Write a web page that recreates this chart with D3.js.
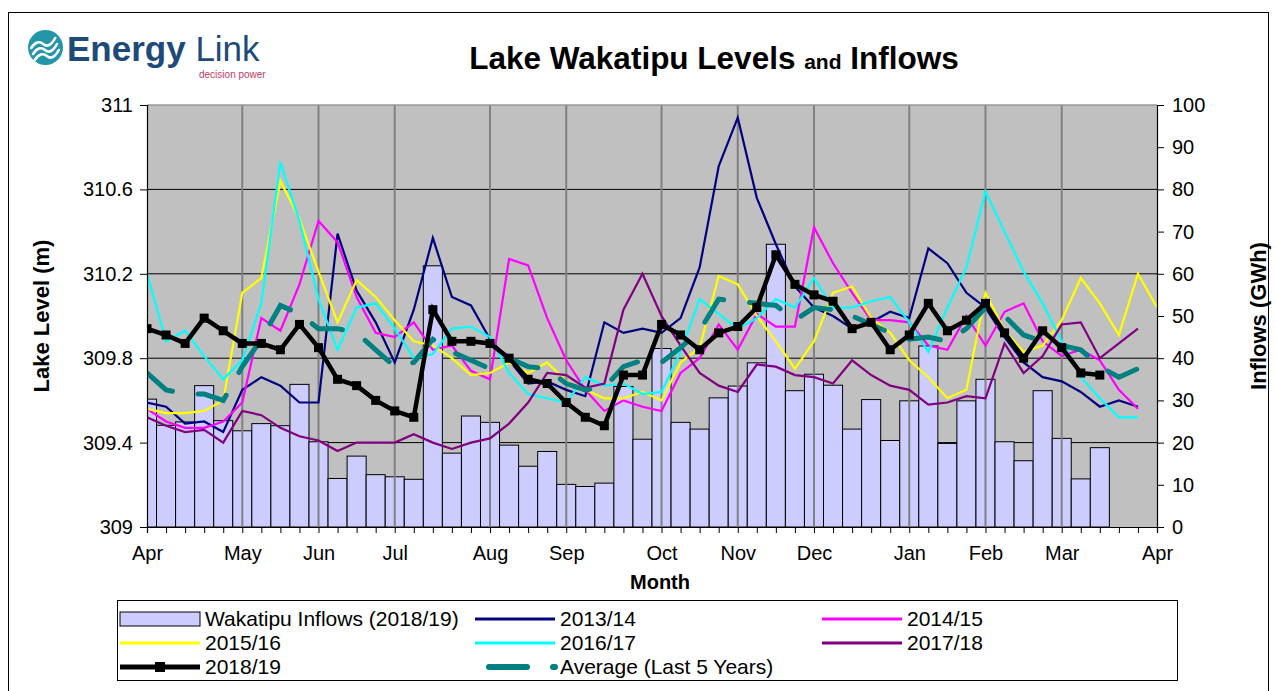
<!DOCTYPE html>
<html><head><meta charset="utf-8">
<script src="https://cdn.jsdelivr.net/npm/d3@7"></script>
<style>body{margin:0;background:#fff;} text{font-family:"Liberation Sans",Arial,sans-serif;}</style>
</head><body><svg id="c" width="1276" height="691"></svg>
<script>
// ---------- DATA ----------
const monthLabels = ["Apr","May","Jun","Jul","Aug","Sep","Oct","Nov","Dec","Jan","Feb","Mar","Apr"];
const monthWeeks  = [0,5,9,13,18,22,27,31,35,40,44,48,53];
const levelTicks  = [309,309.4,309.8,310.2,310.6,311];
const inflowTicks = [0,10,20,30,40,50,60,70,80,90,100];

const inflows = [30.3,24.1,24.9,33.5,25.2,22.8,24.5,24.0,33.8,20.2,11.5,16.8,12.4,11.9,11.3,61.9,17.5,26.3,24.8,19.4,14.4,17.9,10.1,9.6,10.4,33.3,20.8,42.3,24.8,23.2,30.6,33.4,38.9,67.0,32.3,36.2,33.6,23.2,30.2,20.5,29.9,42.9,19.8,29.9,35.0,20.2,15.7,32.3,21.0,11.4,18.8];
const s1314 = [309.59,309.57,309.49,309.50,309.45,309.65,309.71,309.67,309.59,309.59,310.39,310.12,309.97,309.78,310.03,310.37,310.09,310.05,309.89,309.79,309.68,309.69,309.65,309.62,309.97,309.92,309.94,309.92,309.99,310.23,310.71,310.94,310.56,310.34,310.14,310.04,310.00,309.94,309.97,310.02,309.99,310.32,310.25,310.11,310.04,309.90,309.78,309.71,309.69,309.64,309.57,309.60,309.57];
const s1415 = [309.56,309.50,309.47,309.47,309.50,309.59,309.99,309.93,310.15,310.45,310.35,310.09,309.92,309.90,309.97,309.84,309.86,309.74,309.70,310.27,310.24,309.99,309.79,309.65,309.55,309.60,309.57,309.55,309.73,309.80,309.96,309.84,310.01,309.95,309.95,310.42,310.25,310.11,309.98,309.98,309.97,309.86,309.84,310.00,309.86,310.02,310.06,309.88,309.81,309.84,309.79,309.65,309.56];
const s1516 = [309.56,309.54,309.54,309.55,309.60,310.11,310.18,310.64,310.46,310.21,309.97,310.17,310.09,309.98,309.88,309.86,309.80,309.72,309.73,309.78,309.73,309.78,309.69,309.65,309.61,309.61,309.64,309.60,309.78,309.85,310.19,310.15,310.00,309.88,309.75,309.88,310.11,310.14,309.99,309.92,309.79,309.71,309.61,309.65,310.11,309.93,309.83,309.86,309.98,310.18,310.06,309.91,310.20,310.04];
const s1617 = [310.20,309.88,309.93,309.81,309.70,309.79,310.06,310.73,310.45,310.08,309.84,310.04,310.06,309.94,309.80,309.82,309.94,309.95,309.90,309.73,309.63,309.61,309.59,309.71,309.67,309.68,309.63,309.64,309.83,310.08,310.01,309.94,309.99,310.08,310.04,310.18,310.04,310.04,310.07,310.09,309.97,309.83,310.04,310.23,310.59,310.40,310.21,310.06,309.88,309.71,309.61,309.52,309.52];
const s1718 = [309.52,309.48,309.45,309.46,309.40,309.55,309.53,309.47,309.43,309.41,309.36,309.40,309.40,309.40,309.44,309.40,309.37,309.40,309.42,309.49,309.59,309.73,309.72,309.66,309.68,310.03,310.20,310.00,309.86,309.73,309.67,309.64,309.77,309.76,309.72,309.71,309.68,309.79,309.72,309.67,309.65,309.58,309.59,309.62,309.61,309.87,309.73,309.81,309.96,309.97,309.80,309.87,309.94];
const s1819 = [309.94,309.91,309.87,309.99,309.93,309.87,309.87,309.84,309.96,309.85,309.70,309.67,309.60,309.55,309.52,310.03,309.88,309.88,309.87,309.80,309.70,309.68,309.59,309.52,309.48,309.72,309.72,309.96,309.91,309.84,309.92,309.95,310.04,310.29,310.15,310.10,310.07,309.94,309.97,309.84,309.91,310.06,309.93,309.98,310.06,309.92,309.80,309.93,309.85,309.73,309.72];
const avg5 = [309.73,309.65,309.63,309.63,309.60,309.76,309.89,310.05,310.01,309.94,309.94,309.92,309.84,309.76,309.78,309.89,309.83,309.79,309.75,309.80,309.76,309.75,309.68,309.65,309.66,309.76,309.79,309.78,309.85,309.93,310.08,310.07,310.06,310.05,309.98,310.04,310.03,310.00,309.96,309.92,309.89,309.90,309.88,309.94,310.04,310.00,309.91,309.88,309.86,309.84,309.76,309.71,309.75];

const seriesNames = ["2013/14","2014/15","2015/16","2016/17","2017/18"];
const seriesColors = ["#000080","#ff00ff","#ffff00","#00ffff","#800080"];
const seriesData = [s1314,s1415,s1516,s1617,s1718];

// ---------- LAYOUT ----------
const svg = d3.select("#c");
const L = 147, R = 1157, T = 105, B = 527;
const x = d3.scaleLinear().domain([0,53]).range([L,R]);
const yL = d3.scaleLinear().domain([309,311]).range([B,T]);
const yR = d3.scaleLinear().domain([0,100]).range([B,T]);

// outer border
svg.append("rect").attr("x",8.5).attr("y",12.5).attr("width",1260).attr("height",700)
  .attr("fill","none").attr("stroke","#000").attr("stroke-width",1);

// logo
const logo = svg.append("g");
logo.append("circle").attr("cx",45.5).attr("cy",47.5).attr("r",17.5).attr("fill","#2596a8");
[-6,0,6].forEach(o=>{
  logo.append("path").attr("d",`M${33+o*0.3},${54+o} q6,-9 12,-4 t12,-6`)
    .attr("fill","none").attr("stroke","#fff").attr("stroke-width",2.6).attr("stroke-linecap","round");
});
logo.append("text").attr("x",67).attr("y",61).attr("fill","#1d4a78").attr("font-size",35)
  .html('<tspan font-weight="bold">Energy</tspan> Link');
logo.append("text").attr("x",199).attr("y",77.5).attr("fill","#c23b63").attr("font-size",10).text("decision power");

// title
svg.append("text").attr("x",714).attr("y",69).attr("text-anchor","middle").attr("font-weight","bold")
  .attr("font-size",31.5)
  .html('Lake Wakatipu Levels <tspan font-size="21">and</tspan> Inflows');

// plot background
svg.append("rect").attr("x",L).attr("y",T).attr("width",R-L).attr("height",B-T).attr("fill","#c0c0c0");

// horizontal gridlines
svg.append("g").selectAll("line").data(levelTicks.slice(1,-1)).join("line")
  .attr("x1",L).attr("x2",R).attr("y1",d=>yL(d)).attr("y2",d=>yL(d))
  .attr("stroke","#000").attr("stroke-width",1);

// clip
svg.append("defs").append("clipPath").attr("id","pc").append("rect")
  .attr("x",L).attr("y",T-5).attr("width",R-L).attr("height",B-T+5);

// bars
const bw = x(1)-x(0);
svg.append("g").attr("clip-path","url(#pc)").selectAll("rect").data(inflows).join("rect")
  .attr("x",(d,i)=>x(i)-bw/2).attr("width",bw)
  .attr("y",d=>yR(d)).attr("height",d=>yR(0)-yR(d))
  .attr("fill","#ccccff").attr("stroke","#000").attr("stroke-width",1);

// vertical month gridlines
svg.append("g").selectAll("line").data(monthWeeks.slice(1,-1)).join("line")
  .attr("x1",d=>x(d)).attr("x2",d=>x(d)).attr("y1",T).attr("y2",B)
  .attr("stroke","#808080").attr("stroke-width",2);

// plot frame top
svg.append("line").attr("x1",L).attr("x2",R).attr("y1",T).attr("y2",T).attr("stroke","#999").attr("stroke-width",1.5);

const line = d3.line().x((d,i)=>x(i)).y(d=>yL(d));
const gl = svg.append("g").attr("clip-path","url(#pc)");
seriesData.forEach((s,k)=>{
  gl.append("path").attr("d",line(s)).attr("fill","none")
    .attr("stroke",seriesColors[k]).attr("stroke-width",2.2).attr("stroke-linejoin","miter");
});
// average
gl.append("path").attr("d",line(avg5)).attr("fill","none").attr("stroke","#008080")
  .attr("stroke-width",5).attr("stroke-dasharray","32,26").attr("stroke-linecap","round");
// 2018/19
gl.append("path").attr("d",line(s1819)).attr("fill","none").attr("stroke","#000").attr("stroke-width",4.5);
gl.append("g").selectAll("rect").data(s1819).join("rect")
  .attr("x",(d,i)=>x(i)-4.5).attr("y",d=>yL(d)-4.5).attr("width",9).attr("height",9).attr("fill","#000");

// axes
const axL = svg.append("g").attr("transform",`translate(${L},0)`)
  .call(d3.axisLeft(yL).tickValues(levelTicks).tickSize(7).tickPadding(7).tickFormat(d3.format("")));
const axR = svg.append("g").attr("transform",`translate(${R},0)`)
  .call(d3.axisRight(yR).tickValues(inflowTicks).tickSize(7).tickPadding(8));
const axB = svg.append("g").attr("transform",`translate(0,${B})`)
  .call(d3.axisBottom(x).tickValues(d3.range(54)).tickSize(6).tickPadding(13)
    .tickFormat(d=>{const j=monthWeeks.indexOf(d); return j>=0?monthLabels[j]:"";}));
[axL,axR,axB].forEach(a=>{
  a.selectAll("path").attr("stroke","#000").attr("stroke-width",1.2);
  a.selectAll("line").attr("stroke","#000");
  a.selectAll("text").attr("font-size",20).attr("fill","#000").attr("font-family","Liberation Sans, Arial, sans-serif");
});
axB.selectAll("text").attr("dy","0.71em");

// axis titles
svg.append("text").attr("transform","translate(49,316) rotate(-90)").attr("text-anchor","middle")
  .attr("font-weight","bold").attr("font-size",22).text("Lake Level (m)");
svg.append("text").attr("transform","translate(1266,316) rotate(-90)").attr("text-anchor","middle")
  .attr("font-weight","bold").attr("font-size",22).text("Inflows (GWh)");
svg.append("text").attr("x",660).attr("y",589).attr("text-anchor","middle")
  .attr("font-weight","bold").attr("font-size",20).text("Month");

// legend
const lg = svg.append("g");
lg.append("rect").attr("x",117.5).attr("y",600.5).attr("width",1060).attr("height",80)
  .attr("fill","#fff").attr("stroke","#000");
const rowsY = [619,643,667];
const items = [
  {t:"Wakatipu Inflows (2018/19)",type:"bar",c:0,r:0},
  {t:"2013/14",type:"line",color:seriesColors[0],c:1,r:0},
  {t:"2014/15",type:"line",color:seriesColors[1],c:2,r:0},
  {t:"2015/16",type:"line",color:seriesColors[2],c:0,r:1},
  {t:"2016/17",type:"line",color:seriesColors[3],c:1,r:1},
  {t:"2017/18",type:"line",color:seriesColors[4],c:2,r:1},
  {t:"2018/19",type:"black",c:0,r:2},
  {t:"Average (Last 5 Years)",type:"avg",c:1,r:2}
];
const colX = [120,475,822];
items.forEach(it=>{
  const x0 = colX[it.c], y0 = rowsY[it.r];
  if(it.type==="bar") lg.append("rect").attr("x",x0).attr("y",y0-7).attr("width",80).attr("height",14)
      .attr("fill","#ccccff").attr("stroke","#000");
  else if(it.type==="line") lg.append("line").attr("x1",x0).attr("x2",x0+80).attr("y1",y0).attr("y2",y0)
      .attr("stroke",it.color).attr("stroke-width",3);
  else if(it.type==="black"){
    lg.append("line").attr("x1",x0).attr("x2",x0+80).attr("y1",y0).attr("y2",y0).attr("stroke","#000").attr("stroke-width",5);
    lg.append("rect").attr("x",x0+35).attr("y",y0-5).attr("width",10).attr("height",10).attr("fill","#000");
  } else {
    lg.append("line").attr("x1",x0+14).attr("x2",x0+80).attr("y1",y0).attr("y2",y0).attr("stroke","#008080")
      .attr("stroke-width",6).attr("stroke-dasharray","38,26").attr("stroke-linecap","round");
  }
  lg.append("text").attr("x",x0+85).attr("y",y0+7).attr("font-size",21).text(it.t);
});
</script></body></html>
